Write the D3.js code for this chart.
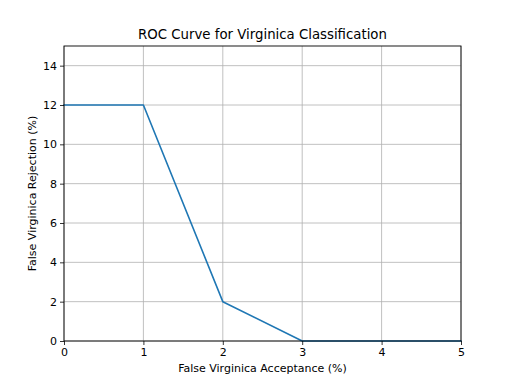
<!DOCTYPE html>
<html><head><meta charset="utf-8">
<script src="https://cdn.jsdelivr.net/npm/d3@7"></script>
<style>body{margin:0;background:#fff}svg{display:block}text{font-family:"DejaVu Sans",sans-serif;fill:#000}</style>
</head><body>
<svg id="c" width="512" height="384"></svg>
<script>
const xValues = [0, 1, 2, 3, 4, 5];
const yValues = [12, 12, 2, 0, 0, 0];
const xTicks = [0, 1, 2, 3, 4, 5];
const yTicks = [0, 2, 4, 6, 8, 10, 12, 14];
const title = "ROC Curve for Virginica Classification";
const xLabel = "False Virginica Acceptance (%)";
const yLabel = "False Virginica Rejection (%)";

const m = {l: 64, r: 461, t: 46, b: 341};
const svg = d3.select("#c");
svg.append("rect").attr("width", 512).attr("height", 384).attr("fill", "#fff");
const x = d3.scaleLinear().domain([0, 5]).range([m.l, m.r]);
const y = d3.scaleLinear().domain([0, 15]).range([m.b, m.t]);

const g = svg.append("g");
// grid
g.selectAll(".gx").data(xTicks).join("line")
  .attr("x1", d => x(d)).attr("x2", d => x(d)).attr("y1", m.t).attr("y2", m.b)
  .attr("stroke", "#b0b0b0").attr("stroke-width", 0.8);
g.selectAll(".gy").data(yTicks).join("line")
  .attr("y1", d => y(d)).attr("y2", d => y(d)).attr("x1", m.l).attr("x2", m.r)
  .attr("stroke", "#b0b0b0").attr("stroke-width", 0.8);

// line
const line = d3.line().x((d, i) => x(xValues[i])).y(d => y(d));
g.append("path").datum(yValues).attr("d", line).attr("fill", "none")
  .attr("stroke", "#1f77b4").attr("stroke-width", 1.6).attr("stroke-linejoin", "round").attr("stroke-linecap", "square");

// axes
const xa = svg.append("g").attr("transform", `translate(0,${m.b})`)
  .call(d3.axisBottom(x).tickValues(xTicks).tickFormat(d3.format("d")).tickSize(4).tickPadding(3));
const ya = svg.append("g").attr("transform", `translate(${m.l},0)`)
  .call(d3.axisLeft(y).tickValues(yTicks).tickFormat(d3.format("d")).tickSize(4).tickPadding(3));
[xa, ya].forEach(a => {
  a.select(".domain").remove();
  a.selectAll("line").attr("stroke", "#000").attr("stroke-width", 0.8);
  a.selectAll("text").style("font-family", "DejaVu Sans").style("font-size", "11px").attr("fill", "#000");
});

// frame
svg.append("rect").attr("x", m.l).attr("y", m.t).attr("width", m.r - m.l).attr("height", m.b - m.t)
  .attr("fill", "none").attr("stroke", "#000").attr("stroke-width", 0.9);

svg.append("text").attr("x", (m.l + m.r) / 2).attr("y", 39).attr("text-anchor", "middle")
  .style("font-size", "13.3px").text(title);
svg.append("text").attr("x", (m.l + m.r) / 2).attr("y", 372).attr("text-anchor", "middle")
  .style("font-size", "11px").text(xLabel);
svg.append("text").attr("transform", `translate(36,${(m.t + m.b) / 2}) rotate(-90)`).attr("text-anchor", "middle")
  .style("font-size", "11px").text(yLabel);
</script>
</body></html>
